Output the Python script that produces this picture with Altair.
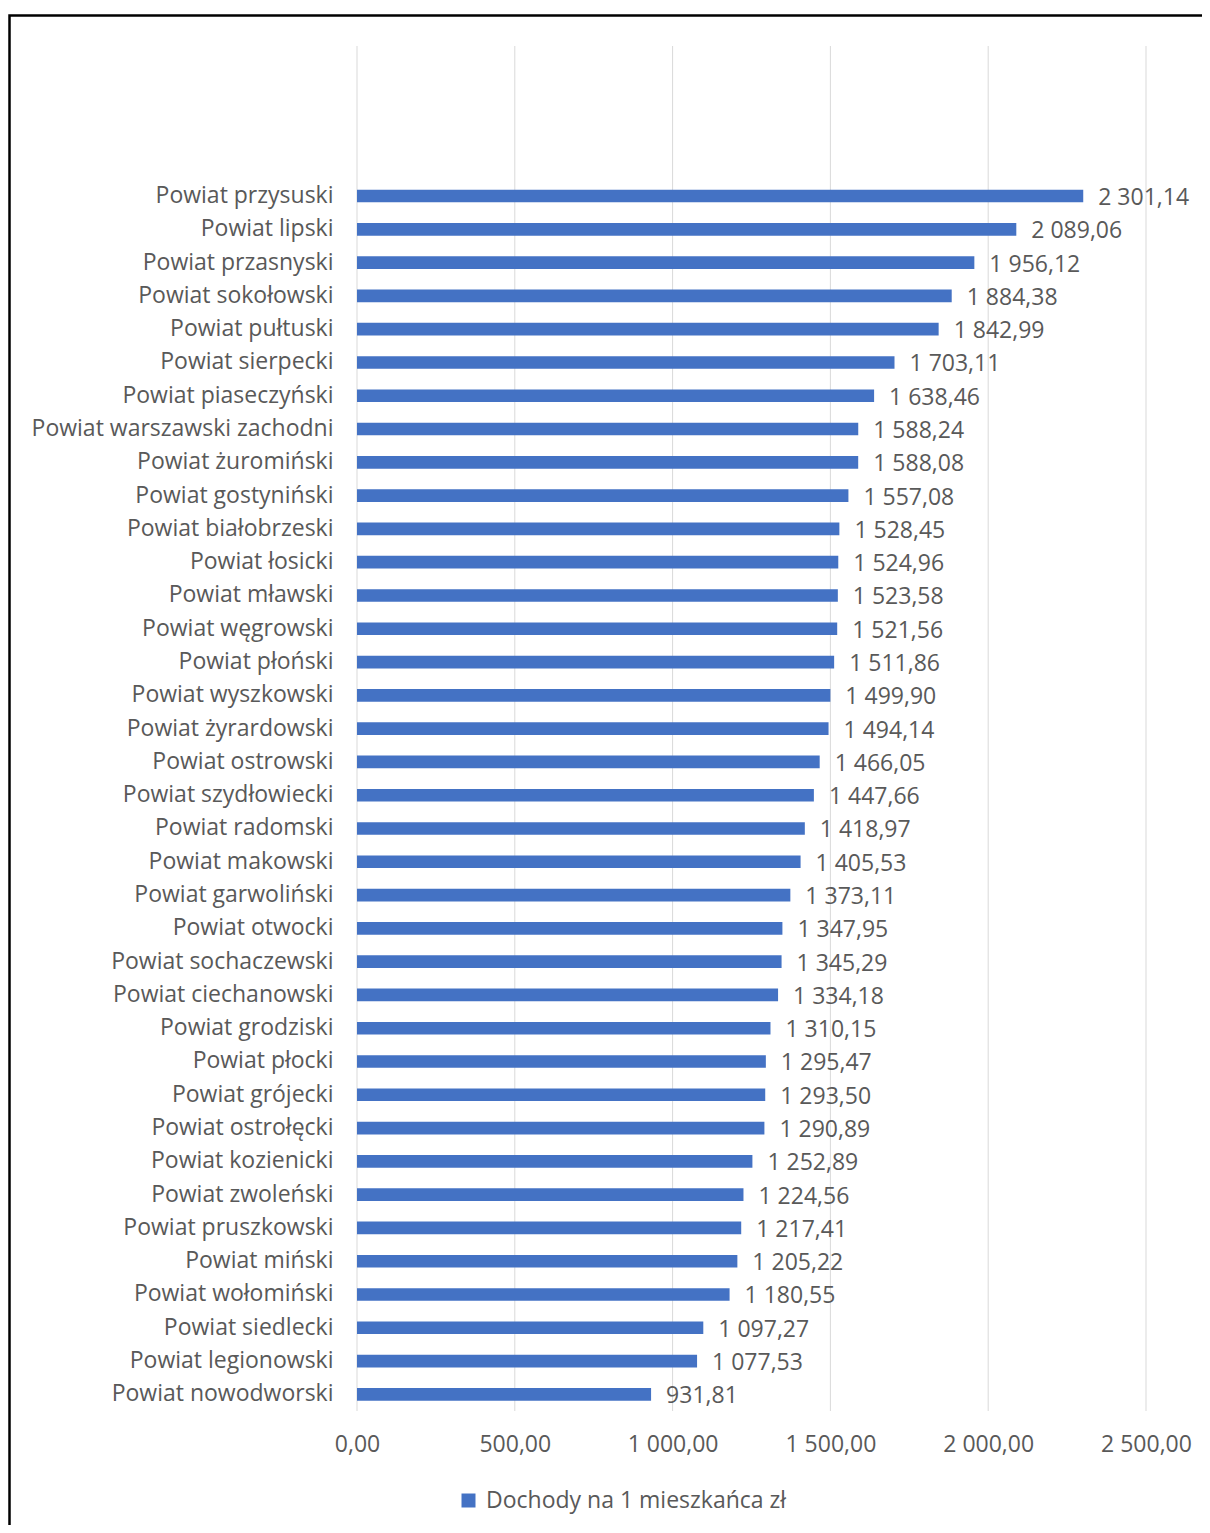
import altair as alt
import pandas as pd

powiaty = [
    "Powiat przysuski", "Powiat lipski", "Powiat przasnyski", "Powiat sokołowski",
    "Powiat pułtuski", "Powiat sierpecki", "Powiat piaseczyński",
    "Powiat warszawski zachodni", "Powiat żuromiński", "Powiat gostyniński",
    "Powiat białobrzeski", "Powiat łosicki", "Powiat mławski", "Powiat węgrowski",
    "Powiat płoński", "Powiat wyszkowski", "Powiat żyrardowski", "Powiat ostrowski",
    "Powiat szydłowiecki", "Powiat radomski", "Powiat makowski", "Powiat garwoliński",
    "Powiat otwocki", "Powiat sochaczewski", "Powiat ciechanowski", "Powiat grodziski",
    "Powiat płocki", "Powiat grójecki", "Powiat ostrołęcki", "Powiat kozienicki",
    "Powiat zwoleński", "Powiat pruszkowski", "Powiat miński", "Powiat wołomiński",
    "Powiat siedlecki", "Powiat legionowski", "Powiat nowodworski",
]
dochody = [
    2301.14, 2089.06, 1956.12, 1884.38, 1842.99, 1703.11, 1638.46, 1588.24,
    1588.08, 1557.08, 1528.45, 1524.96, 1523.58, 1521.56, 1511.86, 1499.90,
    1494.14, 1466.05, 1447.66, 1418.97, 1405.53, 1373.11, 1347.95, 1345.29,
    1334.18, 1310.15, 1295.47, 1293.50, 1290.89, 1252.89, 1224.56, 1217.41,
    1205.22, 1180.55, 1097.27, 1077.53, 931.81,
]
seria = "Dochody na 1 mieszkańca zł"
x_ticks = [0, 500, 1000, 1500, 2000, 2500]

df = pd.DataFrame({"powiat": powiaty, "wartosc": dochody, "seria": [seria] * len(powiaty)})
grid_df = pd.DataFrame({"tick": x_ticks})

FONT = "Open Sans"
FS = 23
GRAY = "#595959"
BLUE = "#4472C4"

W, H = 789, 1365

x_scale = alt.Scale(domain=[0, 2500], nice=False)

base = alt.Chart(df).encode(
    y=alt.Y(
        "powiat:N",
        sort=None,
        title=None,
        scale=alt.Scale(range=[133.4, H], paddingInner=0.62, paddingOuter=0.31),
        axis=alt.Axis(
            domain=False, ticks=False, grid=False, labelFontSize=FS, labelColor=GRAY,
            labelFont=FONT, labelPadding=24, labelLimit=600,
        ),
    ),
    x=alt.X(
        "wartosc:Q",
        title=None,
        scale=x_scale,
        axis=alt.Axis(
            values=x_ticks, format=",.2f", domain=False, ticks=False, grid=False,
            labelFontSize=FS, labelColor=GRAY, labelFont=FONT, labelPadding=22,
            labelFlush=False, labelOverlap=False,
        ),
    ),
)

grid = alt.Chart(grid_df).mark_rule(color="#d9d9d9", strokeWidth=1).encode(
    x=alt.X("tick:Q", scale=x_scale),
    y=alt.value(0),
    y2=alt.value(H),
)

bars = base.mark_bar(color=BLUE).encode(
    color=alt.Color(
        "seria:N",
        scale=alt.Scale(range=[BLUE]),
        legend=alt.Legend(
            title=None, orient="none", legendX=100, legendY=1443,
            symbolType="square", symbolSize=196, symbolStrokeWidth=0,
            labelFontSize=FS, labelColor=GRAY, labelFont=FONT, labelOffset=6,
            labelLimit=800,
        ),
    )
)

labels = base.mark_text(
    align="left", baseline="middle", dx=15, dy=2, fontSize=FS, color=GRAY, font=FONT
).encode(text=alt.Text("wartosc:Q", format=",.2f"))

frame = alt.Chart(pd.DataFrame({"a": [0]})).mark_rect(
    filled=False, stroke="black", strokeWidth=2.5
).encode(
    x=alt.value(-347.5), x2=alt.value(1000), y=alt.value(-30.5), y2=alt.value(1600)
)

chart = alt.layer(frame, grid, bars, labels).properties(
    width=W, height=H,
    autosize=alt.AutoSizeParams(type="none"),
    padding={"left": 349, "top": 38, "right": 56, "bottom": 114},
).configure(
    locale={"number": {"decimal": ",", "thousands": "\u00a0", "grouping": [3], "currency": ["", " zł"]}}
).configure_view(stroke=None)

chart.save("out.html", embed_options={"renderer": "svg", "actions": False})
